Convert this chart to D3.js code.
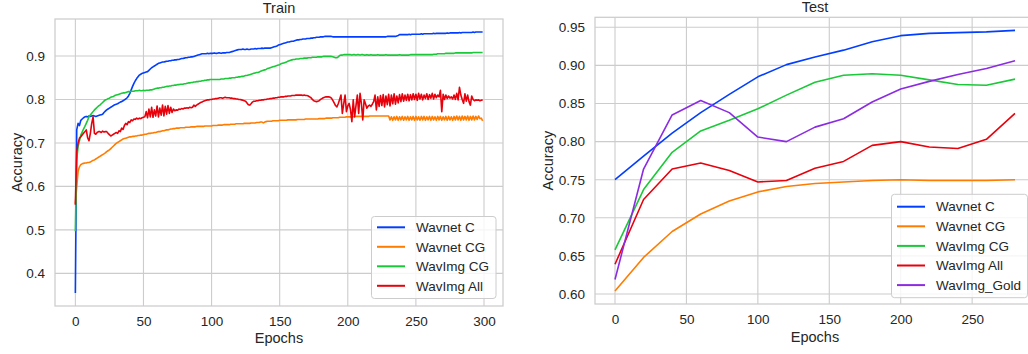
<!DOCTYPE html>
<html>
<head>
<meta charset="utf-8">
<script src="https://cdn.jsdelivr.net/npm/d3@7"></script>
<style>
  html, body { margin: 0; padding: 0; background: #ffffff; }
  svg { display: block; font-family: "Liberation Sans", Arial, sans-serif; }
</style>
</head>
<body>
<svg id="chart" width="1028" height="354"></svg>
<script>
// ---------------- DATA ----------------
// Train panel: epochs 0..299
const trainWavnetC = [
0.355,0.730,0.745,0.740,0.752,0.755,0.758,0.760,0.761,0.760,
0.762,0.761,0.762,0.763,0.762,0.761,0.762,0.763,0.764,0.765,
0.766,0.770,0.773,0.776,0.778,0.780,0.782,0.784,0.786,0.788,
0.789,0.790,0.792,0.794,0.795,0.797,0.799,0.801,0.804,0.808,
0.814,0.822,0.830,0.837,0.843,0.848,0.852,0.856,0.858,0.860,
0.861,0.862,0.863,0.864,0.867,0.870,0.873,0.875,0.877,0.879,
0.881,0.883,0.884,0.885,0.886,0.886,0.887,0.888,0.888,0.889,
0.889,0.890,0.890,0.891,0.891,0.892,0.892,0.893,0.894,0.894,
0.895,0.896,0.896,0.897,0.897,0.898,0.898,0.899,0.900,0.901,
0.902,0.903,0.904,0.905,0.905,0.905,0.905,0.906,0.905,0.906,
0.906,0.906,0.907,0.906,0.906,0.907,0.907,0.906,0.907,0.907,
0.907,0.908,0.908,0.908,0.909,0.910,0.911,0.912,0.913,0.914,
0.915,0.915,0.915,0.916,0.915,0.915,0.916,0.915,0.915,0.916,
0.916,0.916,0.917,0.916,0.917,0.917,0.917,0.918,0.917,0.918,
0.918,0.918,0.918,0.918,0.919,0.920,0.921,0.922,0.923,0.925,
0.926,0.927,0.928,0.929,0.930,0.931,0.932,0.932,0.933,0.934,
0.934,0.935,0.936,0.937,0.937,0.938,0.938,0.939,0.939,0.939,
0.940,0.940,0.940,0.941,0.941,0.942,0.942,0.943,0.943,0.943,
0.944,0.944,0.944,0.945,0.945,0.945,0.945,0.945,0.945,0.944,
0.944,0.944,0.944,0.944,0.944,0.944,0.944,0.944,0.944,0.944,
0.944,0.944,0.944,0.944,0.944,0.944,0.944,0.944,0.944,0.944,
0.944,0.944,0.944,0.944,0.944,0.944,0.944,0.944,0.944,0.944,
0.944,0.944,0.944,0.944,0.944,0.944,0.944,0.944,0.944,0.945,
0.945,0.945,0.945,0.945,0.945,0.945,0.946,0.947,0.949,0.949,
0.949,0.949,0.949,0.949,0.949,0.950,0.949,0.950,0.950,0.950,
0.950,0.950,0.950,0.950,0.951,0.950,0.951,0.951,0.951,0.951,
0.951,0.951,0.951,0.952,0.951,0.952,0.952,0.952,0.952,0.952,
0.952,0.952,0.952,0.953,0.952,0.953,0.953,0.953,0.953,0.953,
0.953,0.953,0.954,0.953,0.954,0.954,0.954,0.954,0.954,0.954,
0.954,0.954,0.955,0.954,0.955,0.955,0.955,0.955,0.955,0.955
];
const trainWavnetCG = [
0.560,0.600,0.635,0.645,0.650,0.652,0.653,0.654,0.654,0.655,
0.655,0.656,0.658,0.660,0.661,0.663,0.665,0.667,0.669,0.671,
0.673,0.675,0.677,0.680,0.682,0.684,0.687,0.690,0.693,0.696,
0.699,0.701,0.703,0.705,0.707,0.709,0.710,0.711,0.712,0.713,
0.714,0.714,0.715,0.715,0.716,0.716,0.717,0.717,0.718,0.718,
0.719,0.720,0.720,0.721,0.722,0.722,0.723,0.723,0.724,0.724,
0.725,0.726,0.726,0.727,0.728,0.728,0.729,0.730,0.730,0.731,
0.732,0.732,0.733,0.733,0.734,0.734,0.734,0.735,0.735,0.735,
0.735,0.736,0.736,0.736,0.736,0.737,0.737,0.737,0.737,0.738,
0.738,0.738,0.738,0.738,0.738,0.739,0.739,0.739,0.739,0.739,
0.739,0.740,0.740,0.740,0.740,0.741,0.741,0.741,0.741,0.742,
0.742,0.742,0.742,0.742,0.743,0.743,0.743,0.743,0.744,0.744,
0.744,0.744,0.744,0.744,0.745,0.745,0.745,0.745,0.745,0.746,
0.746,0.746,0.746,0.747,0.747,0.747,0.748,0.748,0.746,0.748,
0.749,0.750,0.750,0.750,0.750,0.751,0.751,0.751,0.751,0.751,
0.752,0.752,0.752,0.752,0.752,0.752,0.753,0.753,0.753,0.753,
0.753,0.753,0.753,0.754,0.754,0.754,0.754,0.754,0.754,0.755,
0.755,0.755,0.755,0.755,0.755,0.755,0.755,0.755,0.755,0.756,
0.756,0.756,0.756,0.756,0.757,0.757,0.757,0.757,0.757,0.758,
0.758,0.758,0.758,0.758,0.759,0.759,0.759,0.759,0.759,0.760,
0.760,0.760,0.760,0.760,0.760,0.761,0.761,0.761,0.761,0.761,
0.761,0.761,0.761,0.761,0.761,0.761,0.762,0.762,0.762,0.762,
0.762,0.762,0.762,0.762,0.762,0.762,0.762,0.762,0.762,0.762,
0.762,0.753,0.760,0.752,0.760,0.753,0.761,0.752,0.760,0.753,
0.761,0.752,0.760,0.753,0.761,0.752,0.760,0.753,0.761,0.752,
0.761,0.753,0.760,0.752,0.761,0.753,0.761,0.752,0.760,0.753,
0.761,0.752,0.761,0.753,0.760,0.752,0.761,0.753,0.761,0.752,
0.760,0.753,0.761,0.752,0.761,0.753,0.760,0.752,0.761,0.753,
0.762,0.753,0.761,0.752,0.762,0.753,0.761,0.753,0.762,0.752,
0.761,0.753,0.762,0.753,0.761,0.754,0.762,0.756,0.757,0.751
];
const trainWavImgCG = [
0.497,0.660,0.692,0.705,0.718,0.725,0.732,0.738,0.745,0.752,
0.760,0.764,0.768,0.772,0.776,0.779,0.782,0.785,0.787,0.790,
0.793,0.796,0.799,0.800,0.802,0.803,0.805,0.806,0.807,0.809,
0.810,0.811,0.812,0.813,0.814,0.815,0.815,0.816,0.817,0.818,
0.818,0.819,0.819,0.819,0.820,0.820,0.820,0.821,0.820,0.820,
0.821,0.820,0.821,0.821,0.821,0.822,0.822,0.823,0.824,0.825,
0.826,0.826,0.827,0.827,0.828,0.828,0.829,0.830,0.830,0.831,
0.831,0.832,0.832,0.833,0.833,0.834,0.834,0.835,0.835,0.835,
0.836,0.836,0.837,0.838,0.838,0.839,0.839,0.840,0.840,0.841,
0.841,0.842,0.842,0.843,0.843,0.844,0.844,0.845,0.845,0.846,
0.846,0.846,0.846,0.846,0.846,0.846,0.846,0.847,0.847,0.847,
0.848,0.848,0.848,0.849,0.849,0.850,0.850,0.850,0.851,0.851,
0.852,0.852,0.853,0.853,0.854,0.855,0.855,0.856,0.857,0.858,
0.859,0.860,0.861,0.862,0.862,0.863,0.865,0.866,0.867,0.868,
0.869,0.871,0.872,0.873,0.874,0.875,0.876,0.877,0.878,0.879,
0.880,0.882,0.883,0.884,0.885,0.886,0.888,0.889,0.890,0.891,
0.892,0.892,0.893,0.893,0.893,0.894,0.894,0.894,0.895,0.895,
0.895,0.896,0.896,0.896,0.897,0.897,0.897,0.897,0.898,0.898,
0.898,0.898,0.899,0.899,0.899,0.899,0.899,0.899,0.899,0.898,
0.897,0.896,0.896,0.898,0.901,0.902,0.902,0.903,0.903,0.903,
0.903,0.903,0.903,0.902,0.903,0.903,0.902,0.903,0.903,0.902,
0.903,0.903,0.902,0.902,0.903,0.902,0.902,0.903,0.902,0.902,
0.902,0.902,0.903,0.902,0.902,0.902,0.902,0.902,0.903,0.902,
0.902,0.902,0.902,0.902,0.902,0.902,0.902,0.902,0.903,0.902,
0.902,0.902,0.902,0.902,0.902,0.902,0.903,0.903,0.903,0.903,
0.903,0.903,0.903,0.903,0.903,0.903,0.903,0.903,0.903,0.903,
0.903,0.903,0.903,0.904,0.904,0.904,0.905,0.905,0.905,0.905,
0.905,0.905,0.906,0.906,0.906,0.906,0.906,0.906,0.906,0.907,
0.907,0.907,0.907,0.907,0.907,0.907,0.907,0.907,0.907,0.907,
0.907,0.907,0.908,0.908,0.908,0.908,0.908,0.908,0.908,0.908
];
const trainWavImgAll = [
0.558,0.680,0.700,0.711,0.714,0.718,0.722,0.726,0.730,0.712,
0.705,0.722,0.745,0.760,0.722,0.720,0.724,0.726,0.726,0.724,
0.727,0.725,0.726,0.726,0.722,0.719,0.716,0.718,0.720,0.722,
0.724,0.722,0.728,0.726,0.734,0.731,0.740,0.745,0.742,0.749,
0.747,0.753,0.751,0.755,0.754,0.757,0.755,0.757,0.756,0.758,
0.759,0.760,0.772,0.758,0.778,0.760,0.782,0.759,0.776,0.762,
0.785,0.760,0.780,0.764,0.787,0.762,0.784,0.766,0.786,0.768,
0.782,0.770,0.778,0.774,0.776,0.775,0.778,0.777,0.779,0.778,
0.780,0.780,0.781,0.780,0.782,0.781,0.782,0.787,0.784,0.787,
0.789,0.791,0.793,0.794,0.796,0.797,0.798,0.799,0.799,0.800,
0.800,0.801,0.801,0.802,0.802,0.803,0.804,0.804,0.803,0.804,
0.805,0.804,0.804,0.804,0.803,0.803,0.802,0.802,0.801,0.801,
0.800,0.800,0.799,0.798,0.797,0.796,0.792,0.788,0.787,0.790,
0.794,0.796,0.796,0.797,0.797,0.798,0.798,0.799,0.799,0.800,
0.800,0.801,0.801,0.802,0.802,0.803,0.803,0.804,0.804,0.805,
0.805,0.806,0.806,0.806,0.807,0.807,0.808,0.808,0.808,0.809,
0.809,0.809,0.810,0.810,0.810,0.810,0.810,0.809,0.810,0.809,
0.809,0.808,0.806,0.804,0.800,0.797,0.796,0.795,0.796,0.797,
0.800,0.802,0.804,0.805,0.806,0.806,0.806,0.805,0.803,0.798,
0.792,0.786,0.783,0.790,0.800,0.810,0.768,0.790,0.810,0.772,
0.785,0.791,0.776,0.749,0.799,0.760,0.785,0.810,0.768,0.814,
0.790,0.753,0.799,0.790,0.780,0.785,0.787,0.784,0.789,0.795,
0.810,0.776,0.806,0.784,0.809,0.786,0.811,0.783,0.808,0.788,
0.812,0.785,0.810,0.790,0.813,0.789,0.808,0.792,0.811,0.795,
0.813,0.796,0.810,0.798,0.812,0.797,0.811,0.799,0.813,0.800,
0.812,0.798,0.814,0.801,0.812,0.799,0.810,0.802,0.813,0.800,
0.811,0.803,0.814,0.801,0.812,0.804,0.810,0.806,0.821,0.772,
0.812,0.800,0.810,0.802,0.808,0.803,0.806,0.801,0.810,0.800,
0.814,0.799,0.828,0.810,0.800,0.791,0.813,0.796,0.810,0.795,
0.787,0.808,0.800,0.797,0.799,0.798,0.799,0.797,0.798,0.799
];

// Test panel: evaluated every 20 epochs
const testEpochs     = [0, 20, 40, 60, 80, 100, 120, 140, 160, 180, 200, 220, 240, 260, 280];
const testWavnetC    = [0.750, 0.781, 0.811, 0.838, 0.862, 0.885, 0.901, 0.911, 0.920, 0.931, 0.939, 0.942, 0.943, 0.944, 0.946];
const testWavnetCG   = [0.604, 0.648, 0.682, 0.705, 0.722, 0.734, 0.741, 0.745, 0.747, 0.749, 0.750, 0.749, 0.749, 0.749, 0.750];
const testWavImgCG   = [0.658, 0.737, 0.786, 0.814, 0.828, 0.843, 0.861, 0.878, 0.887, 0.889, 0.887, 0.881, 0.875, 0.874, 0.882];
const testWavImgAll  = [0.639, 0.724, 0.764, 0.772, 0.762, 0.747, 0.749, 0.765, 0.774, 0.795, 0.800, 0.793, 0.791, 0.803, 0.837];
const testWavImgGold = [0.619, 0.764, 0.835, 0.854, 0.838, 0.806, 0.800, 0.819, 0.830, 0.852, 0.869, 0.879, 0.888, 0.896, 0.906];

const trainNames = ["Wavnet C", "Wavnet CG", "WavImg CG", "WavImg All"];
const testNames  = ["Wavnet C", "Wavnet CG", "WavImg CG", "WavImg All", "WavImg_Gold"];
const colors     = ["#023eff", "#ff7c00", "#1ac938", "#e8000b", "#8b2be2"];
const trainXTicks = [0, 50, 100, 150, 200, 250, 300];
const trainYTicks = [0.4, 0.5, 0.6, 0.7, 0.8, 0.9];
const testXTicks  = [0, 50, 100, 150, 200, 250];
const testYTicks  = [0.60, 0.65, 0.70, 0.75, 0.80, 0.85, 0.90, 0.95];

// ---------------- DRAW ----------------
const svg = d3.select("#chart");
const TEXT = "#262626", GRID = "#cccccc";

function panel(cfg) {
  const g = svg.append("g");
  const x = d3.scaleLinear().domain(cfg.xDomain).range([cfg.left, cfg.right]);
  const y = d3.scaleLinear().domain(cfg.yDomain).range([cfg.bottom, cfg.top]);

  // grid
  g.append("g").selectAll("line").data(cfg.xTicks).join("line")
    .attr("x1", d => x(d)).attr("x2", d => x(d))
    .attr("y1", cfg.top).attr("y2", cfg.bottom)
    .attr("stroke", GRID).attr("stroke-width", 1.1);
  g.append("g").selectAll("line").data(cfg.yTicks).join("line")
    .attr("x1", cfg.left).attr("x2", cfg.right)
    .attr("y1", d => y(d)).attr("y2", d => y(d))
    .attr("stroke", GRID).attr("stroke-width", 1.1);

  // frame
  g.append("rect")
    .attr("x", cfg.left).attr("y", cfg.top)
    .attr("width", cfg.right - cfg.left).attr("height", cfg.bottom - cfg.top)
    .attr("fill", "none").attr("stroke", GRID).attr("stroke-width", 1.25);

  // axes (labels only, no tick marks)
  const xa = g.append("g").attr("transform", `translate(0,${cfg.bottom})`)
    .call(d3.axisBottom(x).tickValues(cfg.xTicks).tickSize(0).tickPadding(10.5).tickFormat(d3.format("d")));
  const ya = g.append("g").attr("transform", `translate(${cfg.left},0)`)
    .call(d3.axisLeft(y).tickValues(cfg.yTicks).tickSize(0).tickPadding(10).tickFormat(d3.format(cfg.yFmt)));
  [xa, ya].forEach(a => {
    a.select(".domain").remove();
    a.selectAll("text").attr("fill", TEXT).attr("font-size", 13.5)
      .attr("font-family", "'Liberation Sans', Arial, sans-serif");
  });

  // lines
  const line = d3.line().x(d => x(d[0])).y(d => y(d[1]));
  cfg.series.forEach((s, i) => {
    g.append("path")
      .datum(cfg.xs.map((e, k) => [e, s[k]]))
      .attr("d", line)
      .attr("fill", "none")
      .attr("stroke", colors[i])
      .attr("stroke-width", 1.6)
      .attr("stroke-linejoin", "round");
  });

  // titles & labels
  g.append("text").attr("x", (cfg.left + cfg.right) / 2).attr("y", cfg.titleY)
    .attr("text-anchor", "middle").attr("fill", TEXT).attr("font-size", 14.5).text(cfg.title);
  g.append("text").attr("x", (cfg.left + cfg.right) / 2).attr("y", cfg.xLabelY)
    .attr("text-anchor", "middle").attr("fill", TEXT).attr("font-size", 14.5).text("Epochs");
  g.append("text")
    .attr("transform", `translate(${cfg.yLabelX},${(cfg.top + cfg.bottom) / 2}) rotate(-90)`)
    .attr("text-anchor", "middle").attr("fill", TEXT).attr("font-size", 14.5).text("Accuracy");

  // legend
  const L = cfg.legend;
  const lg = g.append("g");
  lg.append("rect")
    .attr("x", L.x0).attr("y", L.y0).attr("width", L.x1 - L.x0).attr("height", L.y1 - L.y0)
    .attr("rx", 3).attr("ry", 3)
    .attr("fill", "#ffffff").attr("fill-opacity", 0.8)
    .attr("stroke", GRID).attr("stroke-width", 1);
  cfg.names.forEach((n, i) => {
    const yy = L.row0 + i * L.step;
    lg.append("line").attr("x1", L.lx0).attr("x2", L.lx1).attr("y1", yy).attr("y2", yy)
      .attr("stroke", colors[i]).attr("stroke-width", 2);
    lg.append("text").attr("x", L.tx).attr("y", yy).attr("dy", "0.35em")
      .attr("fill", TEXT).attr("font-size", 13.5).text(n);
  });
}

const trainXs = d3.range(trainWavnetC.length);

panel({
  left: 55, right: 503, top: 19, bottom: 306,
  xDomain: [-14.95, 313.95], yDomain: [0.325, 0.985],
  xTicks: trainXTicks, yTicks: trainYTicks, yFmt: ".1f",
  xs: trainXs,
  series: [trainWavnetC, trainWavnetCG, trainWavImgCG, trainWavImgAll],
  names: trainNames,
  title: "Train", titleY: 12.5, xLabelY: 343, yLabelX: 21.5,
  legend: { x0: 371.5, x1: 496, y0: 216.5, y1: 298.5, lx0: 377, lx1: 405, tx: 416, row0: 227.3, step: 19.5 }
});

panel({
  left: 595, right: 1035, top: 17.3, bottom: 304,
  xDomain: [-14, 294], yDomain: [0.5869, 0.9631],
  xTicks: testXTicks, yTicks: testYTicks, yFmt: ".2f",
  xs: testEpochs,
  series: [testWavnetC, testWavnetCG, testWavImgCG, testWavImgAll, testWavImgGold],
  names: testNames,
  title: "Test", titleY: 12, xLabelY: 341.5, yLabelX: 553,
  legend: { x0: 891.5, x1: 1027.5, y0: 194.3, y1: 297.7, lx0: 897, lx1: 925, tx: 936, row0: 206.7, step: 19.6 }
});
</script>
</body>
</html>
